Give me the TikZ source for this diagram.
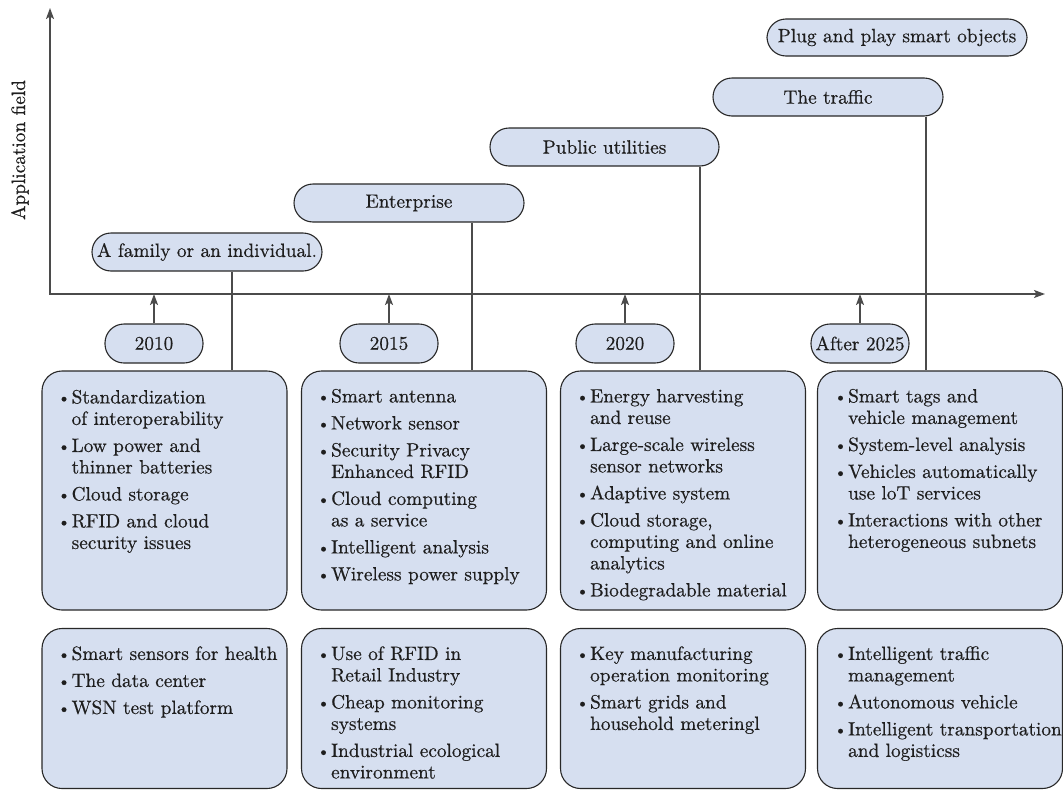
\documentclass[tikz,border=0pt]{standalone}
\usepackage{fontspec}
\setmainfont{lmroman10-regular.otf}[FakeBold=0.5]
\usetikzlibrary{arrows.meta}
\definecolor{boxfill}{RGB}{214,223,240}
\definecolor{edgec}{RGB}{40,40,40}
\definecolor{linec}{RGB}{75,75,75}
\definecolor{textc}{RGB}{30,30,30}
\newcommand{\bul}{\makebox[14pt][l]{\raisebox{0.5pt}{\scalebox{0.85}{\textbullet}}}}
\newlength{\igap}\setlength{\igap}{5.5pt}
\tikzset{
  pill/.style={draw=edgec, fill=boxfill, line width=1.1pt, rounded corners=19pt,
    minimum height=38pt, inner sep=0pt, text=textc, font=\fontsize{19.3}{22}\selectfont},
  bigbox/.style={draw=edgec, fill=boxfill, line width=1.1pt, rounded corners=20pt,
    minimum width=245pt, inner sep=0pt},
  txt/.style={anchor=base west, inner sep=0pt, text=textc, font=\fontsize{19.3}{21.5}\selectfont},
  conn/.style={draw=linec, line width=1.3pt},
  axisl/.style={draw=linec, line width=1.5pt},
  tip/.style={-{Stealth[length=11pt,width=8pt,inset=2.5pt]}, draw=linec, line width=1.5pt, color=linec}
}
\begin{document}
\begin{tikzpicture}[x=1pt,y=-1pt]
\useasboundingbox (0,0) rectangle (1063,790);

% axes
\coordinate (O) at (50,294);
\coordinate (ytop) at (50,8);
\coordinate (xend) at (1045,294);
\draw[axisl,{Stealth[length=11pt,width=8pt,inset=2.5pt]}-{Stealth[length=11pt,width=8pt,inset=2.5pt]}] (ytop) -- (O) -- (xend);
\node[rotate=90, font=\fontsize{19.3}{22}\selectfont, text=textc, inner sep=0pt] (ylab) at (20,150) {Application field};

% application field pills
\node[pill, minimum width=230pt] (fam) at (207,252) {A family or an individual.};
\node[pill, minimum width=230pt] (ent) at (409,203) {Enterprise};
\node[pill, minimum width=229pt] (pub) at (604.5,147) {Public utilities};
\node[pill, minimum width=230pt] (trf) at (828,97) {The traffic};
\node[pill, minimum width=260pt, minimum height=37pt] (plug) at (897,37.5) {Plug and play smart objects};

% year pills
\node[pill, minimum width=98pt, minimum height=39pt] (y1) at (154,343.5) {2010};
\node[pill, minimum width=98pt, minimum height=39pt] (y2) at (389,343.5) {2015};
\node[pill, minimum width=98pt, minimum height=39pt] (y3) at (625,343.5) {2020};
\node[pill, minimum width=98pt, minimum height=39pt] (y4) at (860,343.5) {After 2025};

% big boxes
\node[bigbox, minimum height=239pt] (u1) at (164.5,490.5) {};
\node[bigbox, minimum height=239pt] (u2) at (424,490.5) {};
\node[bigbox, minimum height=239pt] (u3) at (683,490.5) {};
\node[bigbox, minimum height=239pt] (u4) at (940,490.5) {};
\node[bigbox, minimum height=160pt] (l1) at (164.5,708.5) {};
\node[bigbox, minimum height=160pt] (l2) at (424,708.5) {};
\node[bigbox, minimum height=160pt] (l3) at (683,708.5) {};
\node[bigbox, minimum height=160pt] (l4) at (940,708.5) {};

% connectors
\draw[conn] ([xshift=25pt]fam.south) -- ([xshift=25pt]fam.south |- u1.north);
\draw[conn] ([xshift=63pt]ent.south) -- ([xshift=63pt]ent.south |- u2.north);
\draw[conn] ([xshift=95.5pt]pub.south) -- ([xshift=95.5pt]pub.south |- u3.north);
\draw[conn] ([xshift=98pt]trf.south) -- ([xshift=98pt]trf.south |- u4.north);
\foreach \y in {y1,y2,y3,y4}{
  \draw[tip] (\y.north) -- (\y.north |- O);
}

% texts
\node[txt] (t1) at ([xshift=16pt,yshift=-33pt]u1.north west) {\begin{tabular}[t]{@{}l@{}l@{}}
\bul & Standardization\\
     & of interoperability\\[\igap]
\bul & Low power and\\
     & thinner batteries\\[\igap]
\bul & Cloud storage\\[\igap]
\bul & RFID and cloud\\
     & security issues
\end{tabular}};

\node[txt] (t2) at ([xshift=16pt,yshift=-32pt]u2.north west) {\begin{tabular}[t]{@{}l@{}l@{}}
\bul & Smart antenna\\[\igap]
\bul & Network sensor\\[\igap]
\bul & Security Privacy\\
     & Enhanced RFID\\[\igap]
\bul & Cloud computing\\
     & as a service\\[\igap]
\bul & Intelligent analysis\\[\igap]
\bul & Wireless power supply
\end{tabular}};

\node[txt] (t3) at ([xshift=16pt,yshift=-32pt]u3.north west) {\begin{tabular}[t]{@{}l@{}l@{}}
\bul & Energy harvesting\\
     & and reuse\\[\igap]
\bul & Large-scale wireless\\
     & sensor networks\\[\igap]
\bul & Adaptive system\\[\igap]
\bul & Cloud storage,\\
     & computing and online\\
     & analytics\\[\igap]
\bul & Biodegradable material
\end{tabular}};

\node[txt] (t4) at ([xshift=17pt,yshift=-32pt]u4.north west) {\begin{tabular}[t]{@{}l@{}l@{}}
\bul & Smart tags and\\
     & vehicle management\\[\igap]
\bul & System-level analysis\\[\igap]
\bul & Vehicles automatically\\
     & use loT services\\[\igap]
\bul & Interactions with other\\
     & heterogeneous subnets
\end{tabular}};

\node[txt] (b1) at ([xshift=16pt,yshift=-32pt]l1.north west) {\begin{tabular}[t]{@{}l@{}l@{}}
\bul & Smart sensors for health\\[\igap]
\bul & The data center\\[\igap]
\bul & WSN test platform
\end{tabular}};

\node[txt] (b2) at ([xshift=16pt,yshift=-32pt]l2.north west) {\begin{tabular}[t]{@{}l@{}l@{}}
\bul & Use of RFID in\\
     & Retail Industry\\[\igap]
\bul & Cheap monitoring\\
     & systems\\[\igap]
\bul & Industrial ecological\\
     & environment
\end{tabular}};

\node[txt] (b3) at ([xshift=16pt,yshift=-32pt]l3.north west) {\begin{tabular}[t]{@{}l@{}l@{}}
\bul & Key manufacturing\\
     & operation monitoring\\[\igap]
\bul & Smart grids and\\
     & household meteringl
\end{tabular}};

\node[txt] (b4) at ([xshift=17pt,yshift=-32pt]l4.north west) {\begin{tabular}[t]{@{}l@{}l@{}}
\bul & Intelligent traffic\\
     & management\\[\igap]
\bul & Autonomous vehicle\\[\igap]
\bul & Intelligent transportation\\
     & and logisticss
\end{tabular}};
\end{tikzpicture}
\end{document}
